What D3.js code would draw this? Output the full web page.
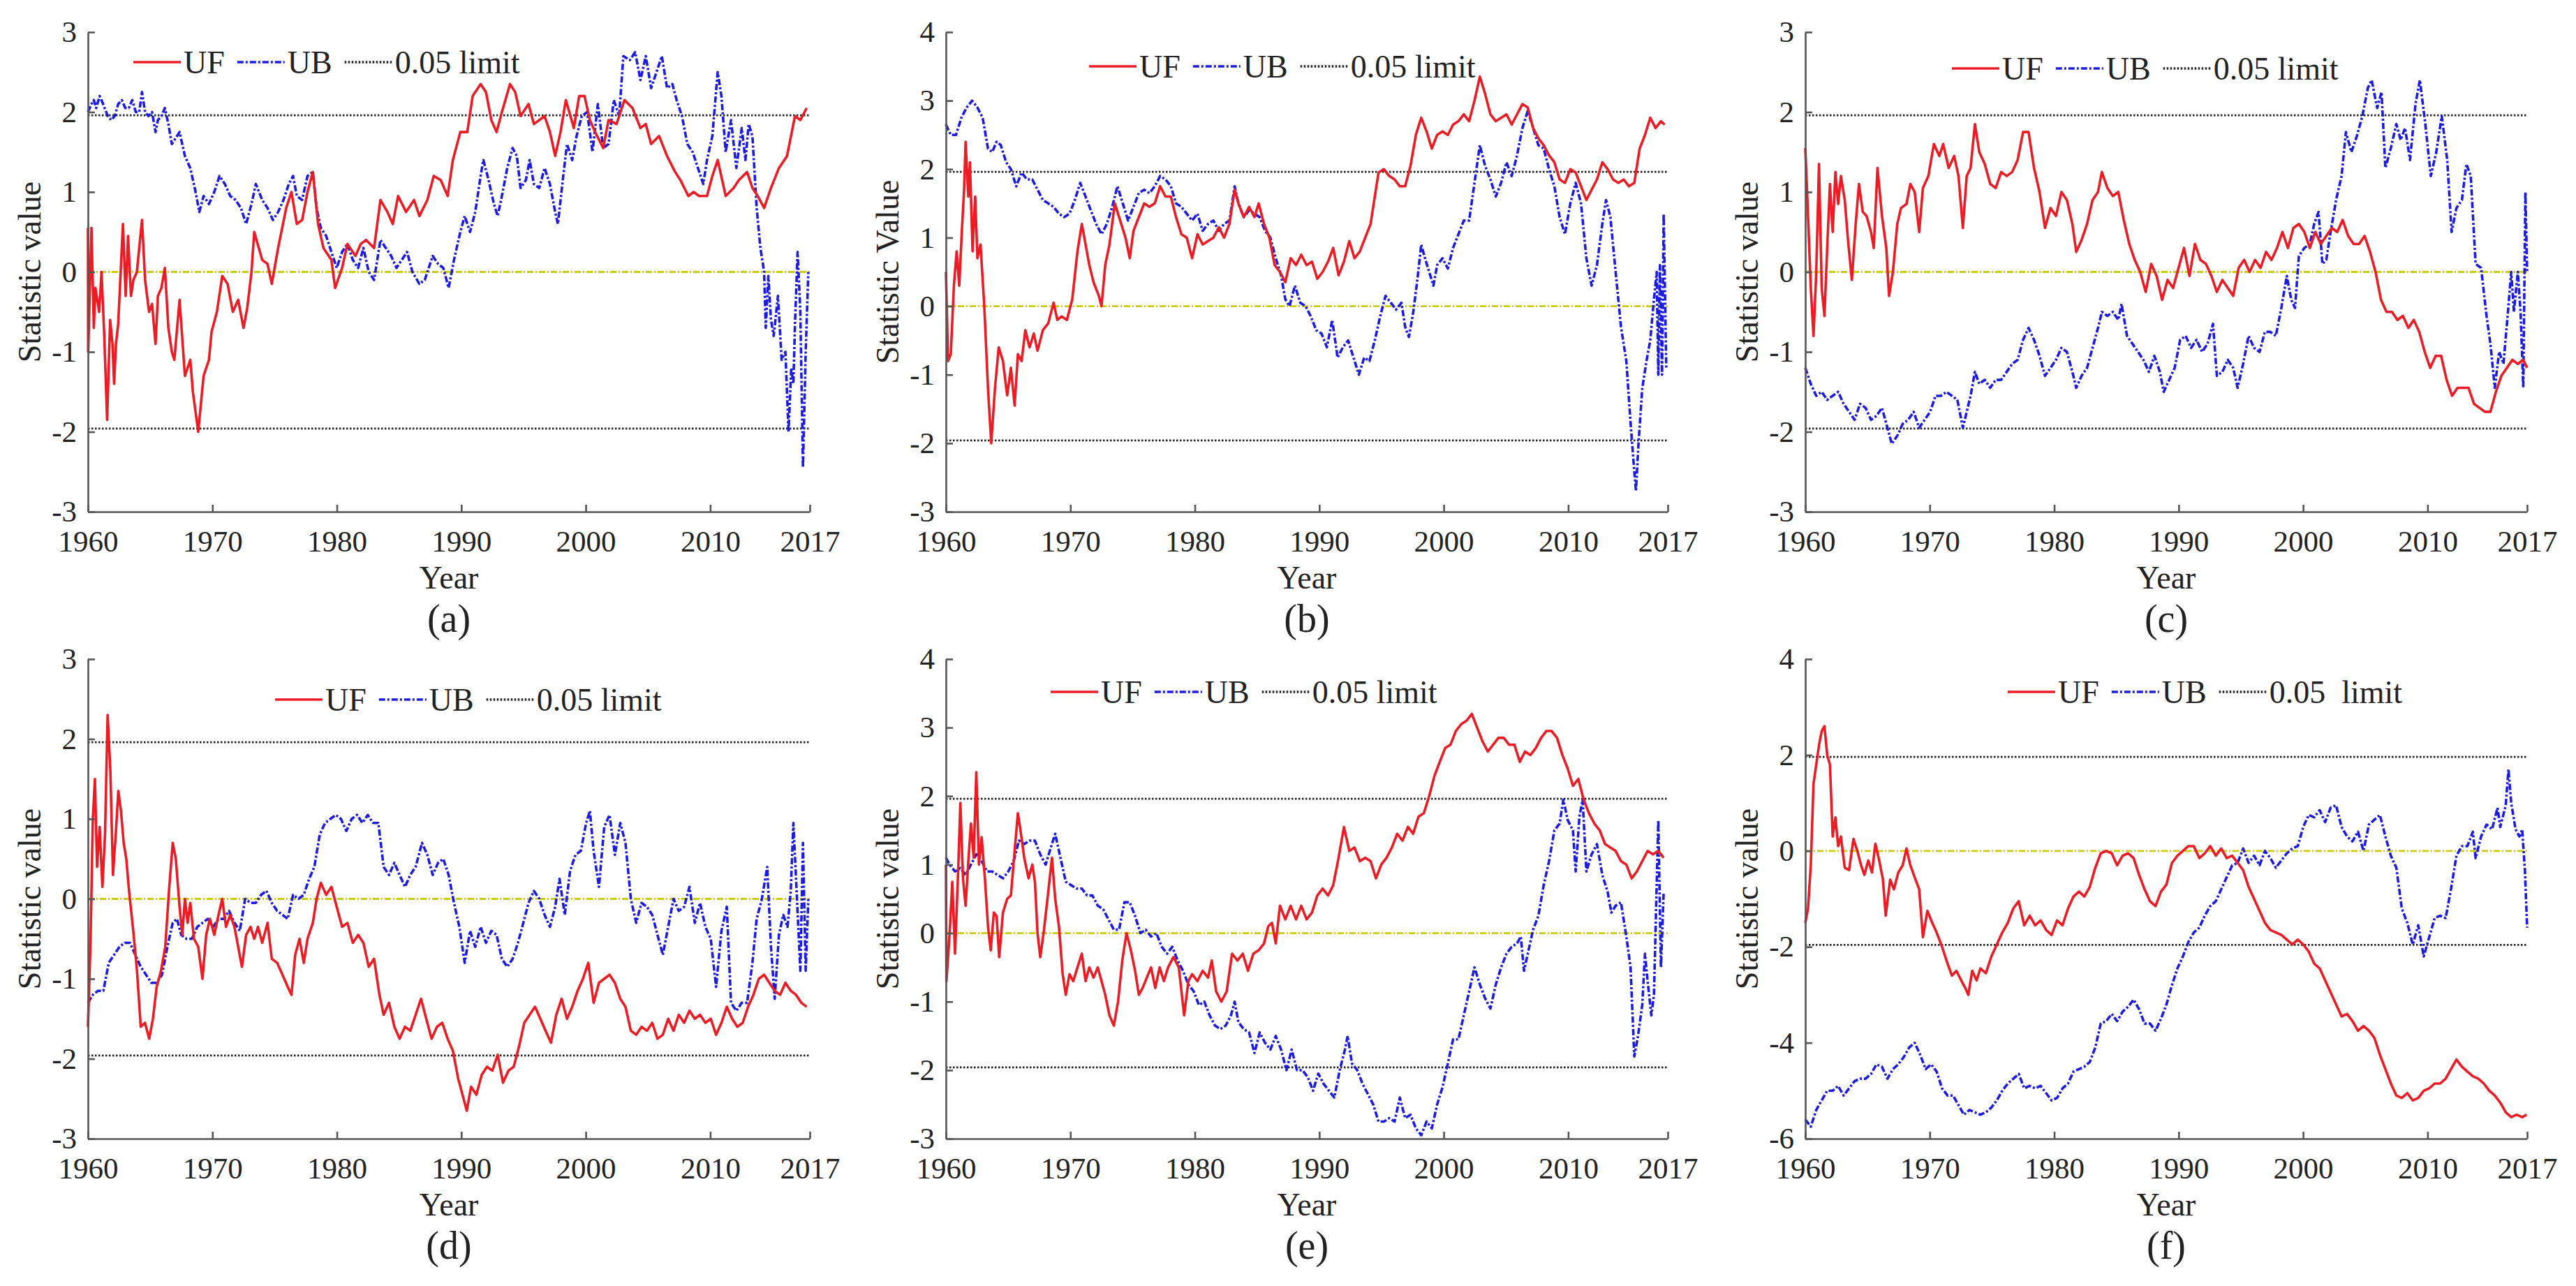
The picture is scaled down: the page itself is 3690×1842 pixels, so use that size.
<!DOCTYPE html>
<html>
<head>
<meta charset="utf-8">
<script src="https://cdn.jsdelivr.net/npm/d3@7"></script>
<style>
  body { margin: 0; background: #fff; }
  svg text { font-family: "Liberation Serif", "Times New Roman", serif; fill: #222; }
</style>
</head>
<body>
<div class="container"></div>
<script>
const w = 3690;
const h = 1842;

// x axis: monthly series Jan 1960 .. Dec 2017, the last tick sits at the end of 2017
const xTickYears = [1960, 1970, 1980, 1990, 2000, 2010, 2018];
const xTickLabels = ['1960', '1970', '1980', '1990', '2000', '2010', '2017'];
const limit = 1.96;

// (a)
const ufA = [[1960.00,0.55],[1960.02,-1.0],[1960.28,0.55],[1960.47,-0.7],[1960.60,-0.2],[1960.75,-0.35],[1960.90,-0.5],[1961.09,0.0],[1961.31,-0.8],[1961.54,-1.85],[1961.78,-0.6],[1961.97,-0.9],[1962.10,-1.4],[1962.25,-0.9],[1962.43,-0.65],[1962.81,0.6],[1963.03,-0.3],[1963.22,0.45],[1963.46,-0.3],[1963.65,-0.1],[1963.93,0.0],[1964.34,0.65],[1964.59,-0.1],[1964.91,-0.5],[1965.15,-0.4],[1965.43,-0.9],[1965.62,-0.3],[1965.90,-0.2],[1966.18,0.05],[1966.46,-0.7],[1966.74,-1.0],[1966.94,-1.1],[1967.36,-0.35],[1967.79,-1.3],[1968.22,-1.1],[1968.43,-1.5],[1968.86,-2.0],[1969.29,-1.3],[1969.72,-1.1],[1969.93,-0.75],[1970.36,-0.5],[1970.79,-0.05],[1971.22,-0.15],[1971.64,-0.5],[1972.07,-0.35],[1972.50,-0.7],[1972.80,-0.45],[1973.14,0.0],[1973.36,0.5],[1974.00,0.15],[1974.43,0.1],[1974.77,-0.15],[1975.28,0.3],[1975.93,0.8],[1976.35,1.0],[1976.78,0.6],[1977.21,0.65],[1977.64,1.0],[1978.07,1.25],[1978.49,0.6],[1978.92,0.3],[1979.56,0.15],[1979.86,-0.2],[1980.42,0.05],[1980.85,0.35],[1981.49,0.2],[1981.92,0.35],[1982.35,0.4],[1982.99,0.3],[1983.50,0.9],[1984.06,0.75],[1984.49,0.6],[1984.92,0.95],[1985.56,0.75],[1986.20,0.9],[1986.63,0.7],[1987.27,0.9],[1987.78,1.2],[1988.34,1.15],[1988.90,0.95],[1989.32,1.4],[1989.92,1.75],[1990.48,1.75],[1990.91,2.2],[1991.55,2.35],[1991.98,2.25],[1992.41,1.9],[1992.83,1.75],[1993.26,2.0],[1993.91,2.35],[1994.33,2.25],[1994.76,1.95],[1995.40,2.1],[1995.83,1.85],[1996.26,1.9],[1996.69,1.95],[1997.12,1.75],[1997.54,1.45],[1997.97,1.75],[1998.40,2.15],[1999.04,1.8],[1999.47,2.2],[1999.90,2.2],[2000.33,1.9],[2000.75,1.75],[2001.40,1.55],[2001.83,1.9],[2002.47,1.85],[2003.11,2.15],[2003.75,2.05],[2004.39,1.8],[2004.82,1.85],[2005.25,1.6],[2005.89,1.7],[2006.53,1.45],[2007.18,1.25],[2007.60,1.15],[2008.24,0.95],[2008.67,1.0],[2009.10,0.95],[2009.74,0.95],[2010.17,1.2],[2010.60,1.4],[2011.24,0.95],[2011.88,1.05],[2012.31,1.15],[2012.96,1.25],[2013.39,1.05],[2013.81,0.95],[2014.33,0.8],[2014.88,1.05],[2015.52,1.3],[2016.17,1.45],[2016.81,1.95],[2017.24,1.9],[2017.75,2.05]];
const ubA = [[1960.00,2.0],[1960.28,2.1],[1960.47,2.15],[1960.66,2.05],[1960.94,2.2],[1961.22,2.1],[1961.59,1.95],[1961.87,1.9],[1962.15,1.95],[1962.43,2.1],[1962.72,2.15],[1963.00,2.05],[1963.28,2.05],[1963.56,2.15],[1963.84,2.0],[1964.12,2.0],[1964.34,2.25],[1964.59,2.0],[1964.87,1.95],[1965.15,2.0],[1965.43,1.75],[1965.62,1.9],[1965.90,1.95],[1966.18,2.05],[1966.46,1.85],[1966.74,1.6],[1967.36,1.75],[1967.79,1.45],[1968.22,1.3],[1968.65,1.0],[1968.95,0.75],[1969.29,0.95],[1969.72,0.85],[1970.15,1.0],[1970.57,1.2],[1971.00,1.1],[1971.43,0.95],[1971.86,0.9],[1972.29,0.8],[1972.71,0.6],[1973.14,0.85],[1973.49,1.1],[1974.00,0.9],[1974.43,0.8],[1974.86,0.65],[1975.28,0.75],[1975.71,0.9],[1976.14,1.1],[1976.48,1.2],[1976.78,0.95],[1977.21,0.9],[1977.64,1.2],[1978.07,1.25],[1978.37,0.8],[1978.71,0.55],[1979.14,0.45],[1979.56,0.25],[1979.99,0.05],[1980.42,0.25],[1980.85,0.35],[1981.28,0.15],[1981.71,0.05],[1982.13,0.3],[1982.56,0.0],[1982.99,-0.1],[1983.50,0.4],[1983.93,0.3],[1984.36,0.2],[1984.79,0.05],[1985.21,0.15],[1985.64,0.25],[1986.07,0.0],[1986.63,-0.15],[1987.06,-0.1],[1987.70,0.2],[1988.13,0.1],[1988.55,0.05],[1988.98,-0.2],[1989.41,0.15],[1989.92,0.5],[1990.27,0.7],[1990.70,0.5],[1991.12,0.75],[1991.55,1.2],[1991.77,1.4],[1992.19,1.15],[1992.62,0.85],[1992.92,0.7],[1993.26,0.95],[1993.69,1.3],[1994.12,1.55],[1994.46,1.45],[1994.76,1.05],[1995.19,1.15],[1995.49,1.4],[1995.83,1.1],[1996.26,1.05],[1996.69,1.3],[1997.12,1.1],[1997.54,0.75],[1997.76,0.6],[1998.19,1.2],[1998.49,1.6],[1998.91,1.4],[1999.26,1.7],[1999.68,1.95],[2000.11,2.0],[2000.54,1.5],[2000.97,2.1],[2001.40,1.55],[2001.83,1.6],[2002.25,2.15],[2002.68,1.95],[2003.02,2.7],[2003.54,2.65],[2003.97,2.75],[2004.39,2.4],[2004.82,2.7],[2005.25,2.3],[2005.68,2.5],[2006.11,2.7],[2006.53,2.3],[2006.96,2.35],[2007.30,2.15],[2007.73,1.95],[2008.16,1.6],[2008.59,1.5],[2009.01,1.3],[2009.44,1.1],[2009.74,1.4],[2010.17,1.7],[2010.60,2.5],[2010.90,2.2],[2011.24,1.5],[2011.67,1.9],[2012.10,1.3],[2012.53,1.8],[2012.83,1.4],[2013.09,1.85],[2013.39,1.7],[2013.73,0.8],[2014.03,0.3],[2014.33,0.0],[2014.46,-0.7],[2014.67,-0.05],[2014.88,-0.6],[2015.10,-0.8],[2015.44,-0.3],[2015.74,-1.1],[2016.04,-1.0],[2016.29,-2.0],[2016.51,-1.2],[2016.68,-1.4],[2016.81,-0.65],[2017.02,0.25],[2017.24,-0.5],[2017.45,-2.45],[2017.67,-1.0],[2017.88,0.0]];

// (b)
const ufB = [[1960.00,0.5],[1960.17,-0.8],[1960.39,-0.7],[1960.64,0.3],[1960.86,0.8],[1961.07,0.3],[1961.28,1.1],[1961.46,1.7],[1961.58,2.4],[1961.80,1.6],[1961.93,2.1],[1962.14,0.8],[1962.35,1.6],[1962.53,0.7],[1962.78,0.9],[1963.08,0.0],[1963.38,-1.2],[1963.64,-2.0],[1963.94,-1.2],[1964.24,-0.6],[1964.58,-0.8],[1964.92,-1.3],[1965.22,-0.9],[1965.52,-1.45],[1965.78,-0.7],[1966.08,-0.8],[1966.38,-0.35],[1966.72,-0.6],[1967.06,-0.4],[1967.36,-0.65],[1967.79,-0.35],[1968.22,-0.25],[1968.65,0.05],[1968.95,-0.2],[1969.29,-0.15],[1969.72,-0.2],[1970.15,0.1],[1970.57,0.8],[1970.92,1.2],[1971.22,0.9],[1971.52,0.6],[1971.86,0.35],[1972.29,0.15],[1972.50,0.0],[1972.80,0.6],[1973.14,0.9],[1973.57,1.5],[1974.00,1.25],[1974.43,1.0],[1974.77,0.7],[1975.07,1.1],[1975.50,1.3],[1975.93,1.5],[1976.35,1.45],[1976.78,1.5],[1977.21,1.75],[1977.64,1.6],[1978.07,1.6],[1978.49,1.3],[1978.92,1.05],[1979.35,1.0],[1979.78,0.7],[1980.21,1.05],[1980.63,0.9],[1981.06,0.95],[1981.49,1.0],[1981.92,1.15],[1982.35,1.0],[1982.78,1.2],[1983.20,1.7],[1983.50,1.5],[1983.93,1.3],[1984.36,1.45],[1984.79,1.3],[1985.13,1.5],[1985.56,1.2],[1985.99,1.0],[1986.41,0.6],[1986.84,0.5],[1987.27,0.35],[1987.70,0.7],[1988.13,0.6],[1988.55,0.75],[1988.98,0.6],[1989.41,0.65],[1989.84,0.4],[1990.27,0.5],[1990.70,0.65],[1991.12,0.85],[1991.55,0.45],[1991.98,0.65],[1992.41,0.95],[1992.83,0.7],[1993.26,0.8],[1993.69,1.0],[1994.12,1.2],[1994.46,1.6],[1994.76,1.95],[1995.19,2.0],[1995.62,1.9],[1996.05,1.85],[1996.47,1.75],[1996.90,1.75],[1997.33,2.05],[1997.76,2.5],[1998.19,2.75],[1998.62,2.55],[1999.04,2.3],[1999.47,2.5],[1999.90,2.55],[2000.33,2.5],[2000.75,2.65],[2001.18,2.7],[2001.61,2.8],[2002.04,2.7],[2002.47,3.0],[2002.90,3.35],[2003.32,3.1],[2003.75,2.8],[2004.18,2.7],[2004.61,2.75],[2005.04,2.8],[2005.46,2.65],[2005.89,2.8],[2006.32,2.95],[2006.75,2.9],[2007.18,2.6],[2007.60,2.45],[2008.03,2.35],[2008.46,2.2],[2008.89,2.1],[2009.31,1.85],[2009.74,1.8],[2010.17,2.0],[2010.60,1.95],[2011.03,1.75],[2011.46,1.55],[2011.88,1.7],[2012.31,1.85],[2012.74,2.1],[2013.17,2.0],[2013.60,1.85],[2014.03,1.8],[2014.46,1.85],[2014.88,1.75],[2015.31,1.8],[2015.74,2.3],[2016.17,2.5],[2016.59,2.75],[2017.02,2.6],[2017.45,2.7],[2017.75,2.65]];
const ubB = [[1960.00,2.65],[1960.39,2.5],[1960.81,2.5],[1961.24,2.75],[1961.67,2.9],[1962.10,3.0],[1962.53,2.9],[1962.95,2.75],[1963.38,2.3],[1963.72,2.25],[1964.07,2.4],[1964.41,2.35],[1964.84,2.1],[1965.22,2.0],[1965.65,1.75],[1966.08,1.95],[1966.51,1.85],[1966.94,1.85],[1967.36,1.7],[1967.79,1.55],[1968.22,1.5],[1968.65,1.45],[1969.08,1.35],[1969.50,1.3],[1969.93,1.35],[1970.36,1.55],[1970.79,1.8],[1971.22,1.6],[1971.64,1.4],[1972.07,1.2],[1972.50,1.05],[1972.93,1.2],[1973.36,1.45],[1973.78,1.75],[1974.21,1.5],[1974.64,1.25],[1975.07,1.45],[1975.50,1.65],[1975.93,1.7],[1976.35,1.65],[1976.78,1.75],[1977.21,1.9],[1977.64,1.85],[1978.07,1.75],[1978.49,1.5],[1978.92,1.45],[1979.35,1.35],[1979.78,1.25],[1980.21,1.35],[1980.63,1.1],[1981.06,1.2],[1981.49,1.25],[1981.92,1.1],[1982.35,1.2],[1982.78,1.25],[1983.20,1.75],[1983.50,1.5],[1983.93,1.3],[1984.36,1.4],[1984.79,1.35],[1985.21,1.3],[1985.64,1.1],[1986.07,1.0],[1986.50,0.7],[1986.93,0.45],[1987.27,0.1],[1987.61,0.0],[1988.04,0.3],[1988.47,0.05],[1988.90,0.0],[1989.32,-0.15],[1989.75,-0.35],[1990.18,-0.4],[1990.61,-0.6],[1991.04,-0.2],[1991.47,-0.75],[1991.89,-0.6],[1992.32,-0.5],[1992.75,-0.75],[1993.18,-1.0],[1993.61,-0.75],[1994.03,-0.8],[1994.46,-0.5],[1994.89,-0.15],[1995.32,0.15],[1995.75,0.05],[1996.17,-0.05],[1996.60,0.05],[1996.90,-0.3],[1997.20,-0.45],[1997.54,-0.1],[1997.89,0.4],[1998.19,0.9],[1998.49,0.7],[1998.83,0.5],[1999.17,0.3],[1999.47,0.6],[1999.90,0.7],[2000.33,0.55],[2000.75,0.85],[2001.18,1.05],[2001.61,1.25],[2002.04,1.25],[2002.47,1.8],[2002.90,2.35],[2003.32,2.05],[2003.75,1.85],[2004.18,1.6],[2004.61,1.8],[2005.04,2.1],[2005.46,1.9],[2005.89,2.2],[2006.32,2.6],[2006.75,2.85],[2007.18,2.6],[2007.60,2.35],[2008.03,2.3],[2008.46,2.0],[2008.89,1.75],[2009.31,1.3],[2009.74,1.05],[2010.17,1.5],[2010.60,1.8],[2011.03,1.5],[2011.46,0.7],[2011.88,0.3],[2012.31,0.6],[2012.74,1.2],[2013.04,1.55],[2013.39,1.3],[2013.81,0.5],[2014.24,-0.3],[2014.67,-0.8],[2015.01,-1.7],[2015.22,-2.2],[2015.44,-2.7],[2015.65,-2.0],[2015.95,-1.2],[2016.29,-0.8],[2016.59,-0.5],[2016.89,0.1],[2017.11,0.5],[2017.24,-1.0],[2017.37,0.6],[2017.54,-1.0],[2017.67,1.35],[2017.88,-0.9]];

// (c)
const ufC = [[1960.00,1.55],[1960.22,0.7],[1960.44,-0.2],[1960.66,-0.8],[1960.88,0.0],[1961.10,1.35],[1961.32,-0.2],[1961.54,-0.55],[1961.76,0.3],[1961.98,1.1],[1962.20,0.5],[1962.42,1.25],[1962.64,0.85],[1962.86,1.2],[1963.17,0.9],[1963.43,0.4],[1963.74,-0.1],[1964.05,0.6],[1964.31,1.1],[1964.62,0.75],[1964.92,0.7],[1965.28,0.5],[1965.50,0.3],[1965.80,1.3],[1966.16,0.7],[1966.51,0.3],[1966.73,-0.3],[1967.04,0.0],[1967.39,0.6],[1967.69,0.8],[1968.13,0.85],[1968.44,1.1],[1968.79,1.0],[1969.15,0.5],[1969.45,1.05],[1969.89,1.2],[1970.33,1.6],[1970.77,1.45],[1971.08,1.6],[1971.52,1.3],[1971.96,1.45],[1972.31,1.2],[1972.66,0.55],[1972.97,1.2],[1973.28,1.3],[1973.63,1.85],[1973.98,1.5],[1974.42,1.35],[1974.86,1.1],[1975.30,1.05],[1975.74,1.25],[1976.18,1.2],[1976.62,1.25],[1977.06,1.4],[1977.50,1.75],[1977.94,1.75],[1978.38,1.3],[1978.82,1.0],[1979.26,0.55],[1979.70,0.8],[1980.14,0.7],[1980.58,1.0],[1981.02,0.9],[1981.46,0.6],[1981.77,0.25],[1982.20,0.4],[1982.64,0.6],[1983.08,0.9],[1983.52,1.0],[1983.83,1.25],[1984.27,1.05],[1984.71,0.95],[1985.15,1.0],[1985.59,0.65],[1986.03,0.35],[1986.47,0.15],[1986.91,0.0],[1987.35,-0.25],[1987.79,0.1],[1988.23,-0.05],[1988.67,-0.35],[1989.11,-0.1],[1989.55,-0.2],[1989.99,0.05],[1990.43,0.3],[1990.87,-0.05],[1991.31,0.35],[1991.75,0.15],[1992.19,0.1],[1992.63,-0.05],[1993.07,-0.25],[1993.51,-0.1],[1993.95,-0.2],[1994.38,-0.3],[1994.82,0.05],[1995.26,0.15],[1995.70,0.0],[1996.14,0.15],[1996.58,0.05],[1997.02,0.25],[1997.46,0.15],[1997.90,0.3],[1998.34,0.5],[1998.78,0.3],[1999.22,0.55],[1999.66,0.6],[2000.10,0.5],[2000.54,0.3],[2000.98,0.5],[2001.42,0.35],[2001.86,0.45],[2002.30,0.55],[2002.74,0.5],[2003.18,0.65],[2003.62,0.45],[2004.06,0.35],[2004.50,0.35],[2004.94,0.45],[2005.38,0.25],[2005.82,0.0],[2006.26,-0.35],[2006.70,-0.5],[2007.14,-0.5],[2007.58,-0.6],[2008.02,-0.55],[2008.46,-0.7],[2008.89,-0.6],[2009.33,-0.75],[2009.77,-1.0],[2010.21,-1.2],[2010.65,-1.05],[2011.09,-1.05],[2011.53,-1.35],[2011.97,-1.55],[2012.41,-1.45],[2012.85,-1.45],[2013.29,-1.45],[2013.73,-1.65],[2014.17,-1.7],[2014.61,-1.75],[2015.05,-1.75],[2015.49,-1.5],[2015.93,-1.3],[2016.37,-1.2],[2016.81,-1.1],[2017.25,-1.15],[2017.69,-1.1],[2018.00,-1.2]];
const ubC = [[1960.00,-1.2],[1960.44,-1.4],[1960.88,-1.55],[1961.32,-1.5],[1961.76,-1.6],[1962.20,-1.55],[1962.64,-1.5],[1963.08,-1.65],[1963.52,-1.75],[1963.96,-1.85],[1964.40,-1.65],[1964.84,-1.7],[1965.28,-1.85],[1965.72,-1.8],[1966.16,-1.7],[1966.60,-1.95],[1966.95,-2.15],[1967.39,-2.05],[1967.83,-1.9],[1968.27,-1.85],[1968.71,-1.75],[1969.15,-1.95],[1969.59,-1.85],[1970.03,-1.75],[1970.46,-1.55],[1970.90,-1.55],[1971.34,-1.5],[1971.78,-1.55],[1972.22,-1.6],[1972.66,-1.95],[1972.97,-1.75],[1973.28,-1.55],[1973.63,-1.25],[1973.98,-1.4],[1974.42,-1.35],[1974.86,-1.45],[1975.30,-1.35],[1975.74,-1.35],[1976.18,-1.25],[1976.62,-1.15],[1977.06,-1.1],[1977.50,-0.85],[1977.94,-0.7],[1978.38,-0.85],[1978.82,-1.05],[1979.26,-1.3],[1979.70,-1.2],[1980.14,-1.1],[1980.58,-0.95],[1981.02,-1.0],[1981.46,-1.25],[1981.77,-1.45],[1982.20,-1.3],[1982.64,-1.2],[1983.08,-0.95],[1983.52,-0.7],[1983.83,-0.5],[1984.27,-0.55],[1984.71,-0.5],[1985.15,-0.6],[1985.41,-0.4],[1985.85,-0.8],[1986.29,-0.9],[1986.73,-1.0],[1987.17,-1.1],[1987.61,-1.25],[1988.05,-1.05],[1988.49,-1.25],[1988.80,-1.5],[1989.24,-1.35],[1989.68,-1.2],[1990.12,-0.85],[1990.56,-0.8],[1991.00,-0.95],[1991.44,-0.85],[1991.88,-1.0],[1992.32,-0.9],[1992.76,-0.65],[1993.07,-1.3],[1993.51,-1.25],[1993.95,-1.1],[1994.38,-1.2],[1994.74,-1.45],[1995.18,-1.15],[1995.62,-0.8],[1996.06,-0.95],[1996.50,-1.0],[1996.93,-0.75],[1997.37,-0.75],[1997.81,-0.8],[1998.25,-0.45],[1998.69,-0.05],[1999.05,-0.35],[1999.35,-0.45],[1999.66,0.2],[2000.10,0.3],[2000.54,0.35],[2000.89,0.6],[2001.24,0.75],[2001.55,0.1],[2001.86,0.15],[2002.21,0.5],[2002.65,0.9],[2003.09,1.2],[2003.44,1.75],[2003.88,1.5],[2004.32,1.7],[2004.76,1.95],[2005.20,2.3],[2005.51,2.4],[2005.95,2.05],[2006.30,2.25],[2006.61,1.3],[2007.05,1.55],[2007.49,1.85],[2007.84,1.65],[2008.19,1.8],[2008.59,1.4],[2009.03,2.1],[2009.38,2.4],[2009.82,1.85],[2010.26,1.2],[2010.70,1.5],[2011.14,1.95],[2011.58,1.4],[2011.93,0.5],[2012.32,0.8],[2012.76,0.9],[2013.12,1.35],[2013.47,1.2],[2013.86,0.1],[2014.30,0.05],[2014.74,-0.55],[2015.05,-0.9],[2015.40,-1.45],[2015.75,-1.0],[2016.10,-1.15],[2016.46,-0.5],[2016.72,0.0],[2016.94,-0.5],[2017.25,0.0],[2017.47,-0.5],[2017.69,-1.45],[2017.86,1.0],[2018.00,0.0]];

// (d)
const ufD = [[1960.00,-1.6],[1960.21,-0.5],[1960.39,1.0],[1960.56,1.5],[1960.73,0.4],[1960.94,0.9],[1961.16,0.15],[1961.37,0.8],[1961.58,2.3],[1961.80,1.6],[1962.01,0.3],[1962.23,0.8],[1962.44,1.35],[1962.65,1.1],[1962.87,0.7],[1963.08,0.5],[1963.30,0.1],[1963.64,-0.4],[1963.94,-0.9],[1964.24,-1.6],[1964.58,-1.55],[1964.92,-1.75],[1965.22,-1.5],[1965.52,-1.1],[1965.87,-0.9],[1966.21,-0.6],[1966.51,0.1],[1966.81,0.7],[1967.06,0.5],[1967.36,-0.1],[1967.58,-0.45],[1967.79,0.0],[1968.01,-0.3],[1968.22,-0.05],[1968.52,-0.5],[1968.86,-0.6],[1969.20,-1.0],[1969.50,-0.45],[1969.80,-0.25],[1970.15,-0.45],[1970.49,-0.2],[1970.79,0.0],[1971.09,-0.35],[1971.43,-0.2],[1971.77,-0.35],[1972.07,-0.6],[1972.37,-0.85],[1972.71,-0.45],[1973.06,-0.35],[1973.36,-0.5],[1973.66,-0.35],[1974.00,-0.55],[1974.43,-0.3],[1974.77,-0.75],[1975.20,-0.8],[1975.63,-0.95],[1976.05,-1.1],[1976.35,-1.2],[1976.65,-0.7],[1977.00,-0.5],[1977.34,-0.8],[1977.64,-0.5],[1978.07,-0.3],[1978.37,0.0],[1978.71,0.2],[1979.14,0.05],[1979.56,0.15],[1979.99,-0.1],[1980.42,-0.35],[1980.85,-0.3],[1981.28,-0.55],[1981.71,-0.45],[1982.13,-0.55],[1982.56,-0.85],[1982.99,-0.75],[1983.42,-1.2],[1983.76,-1.45],[1984.19,-1.3],[1984.62,-1.6],[1985.04,-1.75],[1985.47,-1.6],[1985.90,-1.65],[1986.33,-1.45],[1986.76,-1.25],[1987.18,-1.5],[1987.61,-1.75],[1988.04,-1.6],[1988.47,-1.55],[1988.90,-1.75],[1989.32,-1.9],[1989.75,-2.25],[1990.18,-2.5],[1990.44,-2.65],[1990.78,-2.35],[1991.21,-2.45],[1991.64,-2.2],[1992.06,-2.1],[1992.49,-2.15],[1992.92,-1.95],[1993.35,-2.3],[1993.78,-2.15],[1994.21,-2.1],[1994.63,-1.85],[1995.06,-1.55],[1995.49,-1.45],[1995.92,-1.35],[1996.35,-1.5],[1996.77,-1.65],[1997.20,-1.8],[1997.63,-1.45],[1998.06,-1.25],[1998.49,-1.5],[1998.91,-1.35],[1999.34,-1.15],[1999.77,-1.0],[2000.20,-0.8],[2000.63,-1.3],[2001.06,-1.05],[2001.48,-1.0],[2001.91,-0.95],[2002.34,-1.05],[2002.77,-1.25],[2003.19,-1.35],[2003.62,-1.65],[2004.05,-1.7],[2004.48,-1.6],[2004.91,-1.65],[2005.34,-1.55],[2005.76,-1.75],[2006.19,-1.7],[2006.62,-1.5],[2007.05,-1.65],[2007.47,-1.45],[2007.90,-1.55],[2008.33,-1.4],[2008.76,-1.5],[2009.18,-1.45],[2009.61,-1.55],[2010.04,-1.5],[2010.47,-1.7],[2010.90,-1.55],[2011.33,-1.35],[2011.76,-1.5],[2012.18,-1.6],[2012.61,-1.55],[2013.04,-1.35],[2013.47,-1.2],[2013.90,-1.0],[2014.33,-0.95],[2014.75,-1.05],[2015.18,-1.15],[2015.61,-1.2],[2016.04,-1.05],[2016.47,-1.15],[2016.89,-1.2],[2017.32,-1.3],[2017.75,-1.35]];
const ubD = [[1960.00,-1.3],[1960.39,-1.2],[1960.81,-1.15],[1961.24,-1.15],[1961.67,-0.8],[1962.10,-0.7],[1962.53,-0.6],[1962.95,-0.55],[1963.38,-0.55],[1963.81,-0.7],[1964.24,-0.85],[1964.67,-0.95],[1965.09,-1.05],[1965.52,-1.05],[1965.95,-0.95],[1966.38,-0.6],[1966.81,-0.3],[1967.15,-0.25],[1967.49,-0.45],[1967.92,-0.5],[1968.35,-0.5],[1968.78,-0.35],[1969.20,-0.3],[1969.63,-0.25],[1970.06,-0.35],[1970.49,-0.25],[1970.92,-0.25],[1971.34,-0.15],[1971.77,-0.3],[1972.20,-0.4],[1972.63,0.0],[1973.06,-0.05],[1973.49,-0.05],[1973.91,0.05],[1974.34,0.1],[1974.77,-0.05],[1975.20,-0.15],[1975.63,-0.2],[1976.05,-0.25],[1976.48,0.05],[1976.91,0.0],[1977.34,0.05],[1977.77,0.25],[1978.19,0.4],[1978.62,0.8],[1979.05,0.95],[1979.48,1.0],[1979.91,1.05],[1980.33,1.0],[1980.76,0.85],[1981.19,1.0],[1981.62,1.05],[1982.05,0.95],[1982.48,1.05],[1982.90,0.95],[1983.33,0.95],[1983.76,0.4],[1984.19,0.3],[1984.62,0.45],[1985.04,0.3],[1985.47,0.15],[1985.90,0.3],[1986.33,0.4],[1986.84,0.7],[1987.27,0.55],[1987.70,0.3],[1988.13,0.45],[1988.55,0.5],[1988.98,0.3],[1989.41,-0.05],[1989.84,-0.35],[1990.27,-0.8],[1990.70,-0.4],[1991.12,-0.6],[1991.55,-0.35],[1991.98,-0.55],[1992.41,-0.4],[1992.83,-0.45],[1993.26,-0.75],[1993.69,-0.85],[1994.12,-0.75],[1994.55,-0.55],[1994.98,-0.3],[1995.40,-0.05],[1995.83,0.1],[1996.26,0.0],[1996.69,-0.2],[1997.12,-0.35],[1997.54,-0.1],[1997.89,0.25],[1998.31,-0.2],[1998.74,0.35],[1999.17,0.55],[1999.60,0.6],[2000.03,0.95],[2000.33,1.1],[2000.63,0.6],[2001.06,0.15],[2001.48,0.9],[2001.91,1.05],[2002.34,0.55],[2002.77,0.95],[2003.19,0.7],[2003.62,0.0],[2004.05,-0.3],[2004.48,-0.05],[2004.91,-0.1],[2005.34,-0.2],[2005.76,-0.45],[2006.19,-0.7],[2006.62,-0.35],[2007.05,0.0],[2007.47,-0.15],[2007.90,-0.1],[2008.33,0.15],[2008.76,-0.3],[2009.18,-0.05],[2009.61,-0.35],[2010.04,-0.5],[2010.47,-1.1],[2010.90,-0.4],[2011.33,-0.1],[2011.67,-1.3],[2012.10,-1.4],[2012.53,-1.3],[2012.96,-1.3],[2013.39,-0.8],[2013.73,-0.25],[2014.15,0.0],[2014.58,0.4],[2014.88,-0.6],[2015.18,-1.25],[2015.52,-0.45],[2015.87,-0.2],[2016.21,-0.35],[2016.47,0.1],[2016.68,0.95],[2016.94,0.1],[2017.24,-0.9],[2017.45,0.7],[2017.67,-0.9],[2017.88,0.0]];

// (e)
const ufE = [[1960.00,1.0],[1960.04,-0.7],[1960.30,0.0],[1960.51,0.75],[1960.73,-0.3],[1960.98,0.9],[1961.16,1.9],[1961.37,0.8],[1961.58,0.4],[1961.80,1.05],[1962.01,1.6],[1962.23,1.1],[1962.44,2.35],[1962.65,1.0],[1962.87,1.4],[1963.13,0.8],[1963.38,0.1],[1963.60,-0.25],[1963.85,0.3],[1964.07,0.25],[1964.28,-0.35],[1964.58,0.3],[1964.92,0.5],[1965.22,0.55],[1965.52,1.2],[1965.78,1.75],[1965.99,1.5],[1966.29,1.1],[1966.64,0.8],[1966.94,1.0],[1967.15,0.75],[1967.36,0.0],[1967.58,-0.35],[1967.88,0.05],[1968.22,0.6],[1968.52,1.1],[1968.78,0.5],[1969.08,0.1],[1969.38,-0.6],[1969.63,-0.9],[1969.93,-0.6],[1970.23,-0.7],[1970.57,-0.5],[1970.92,-0.3],[1971.22,-0.7],[1971.52,-0.5],[1971.86,-0.65],[1972.20,-0.5],[1972.50,-0.7],[1972.80,-0.9],[1973.14,-1.2],[1973.49,-1.35],[1973.83,-1.0],[1974.17,-0.4],[1974.51,0.0],[1974.86,-0.25],[1975.20,-0.55],[1975.50,-0.9],[1975.80,-0.8],[1976.14,-0.65],[1976.48,-0.5],[1976.82,-0.8],[1977.17,-0.5],[1977.51,-0.7],[1977.85,-0.5],[1978.28,-0.35],[1978.71,-0.5],[1979.14,-1.2],[1979.48,-0.7],[1979.78,-0.6],[1980.21,-0.7],[1980.63,-0.55],[1981.06,-0.65],[1981.36,-0.4],[1981.71,-0.85],[1982.13,-1.0],[1982.56,-0.85],[1982.99,-0.3],[1983.42,-0.4],[1983.85,-0.3],[1984.27,-0.55],[1984.70,-0.3],[1985.13,-0.25],[1985.56,-0.15],[1985.90,0.1],[1986.20,0.15],[1986.50,-0.15],[1986.84,0.4],[1987.27,0.2],[1987.70,0.4],[1988.13,0.2],[1988.55,0.4],[1988.98,0.2],[1989.41,0.3],[1989.84,0.55],[1990.27,0.65],[1990.70,0.55],[1991.12,0.7],[1991.55,1.1],[1991.98,1.55],[1992.41,1.2],[1992.83,1.25],[1993.26,1.05],[1993.69,1.1],[1994.12,1.05],[1994.55,0.8],[1994.98,1.0],[1995.40,1.1],[1995.83,1.25],[1996.26,1.45],[1996.69,1.35],[1997.12,1.55],[1997.54,1.45],[1997.97,1.7],[1998.40,1.75],[1998.83,2.0],[1999.26,2.3],[1999.68,2.5],[2000.11,2.7],[2000.54,2.75],[2000.97,2.95],[2001.40,3.05],[2001.83,3.1],[2002.25,3.2],[2002.68,3.0],[2003.11,2.8],[2003.54,2.65],[2003.97,2.75],[2004.39,2.85],[2004.82,2.85],[2005.25,2.75],[2005.68,2.75],[2006.11,2.5],[2006.53,2.65],[2006.96,2.6],[2007.39,2.7],[2007.82,2.85],[2008.24,2.95],[2008.67,2.95],[2009.10,2.85],[2009.53,2.6],[2009.96,2.4],[2010.38,2.15],[2010.81,2.25],[2011.24,1.95],[2011.67,1.75],[2012.10,1.6],[2012.53,1.5],[2012.96,1.3],[2013.39,1.25],[2013.81,1.2],[2014.24,1.05],[2014.67,1.0],[2015.10,0.8],[2015.52,0.9],[2015.95,1.05],[2016.38,1.2],[2016.81,1.15],[2017.24,1.2],[2017.67,1.1]];
const ubE = [[1960.00,1.1],[1960.30,1.0],[1960.73,0.9],[1961.16,0.95],[1961.58,0.85],[1962.01,1.0],[1962.44,1.15],[1962.87,1.05],[1963.30,0.9],[1963.72,0.9],[1964.15,0.85],[1964.58,0.8],[1965.01,0.9],[1965.44,1.05],[1965.87,1.35],[1966.29,1.3],[1966.72,1.35],[1967.15,1.35],[1967.58,1.15],[1968.01,1.0],[1968.43,1.25],[1968.78,1.45],[1969.20,1.1],[1969.63,0.75],[1970.06,0.7],[1970.49,0.65],[1970.92,0.65],[1971.34,0.55],[1971.77,0.55],[1972.20,0.4],[1972.63,0.35],[1973.06,0.2],[1973.49,0.05],[1973.91,0.05],[1974.34,0.45],[1974.77,0.45],[1975.20,0.25],[1975.63,0.0],[1976.05,0.05],[1976.48,-0.05],[1976.91,0.0],[1977.34,-0.2],[1977.77,-0.3],[1978.19,-0.2],[1978.62,-0.4],[1979.05,-0.55],[1979.48,-0.75],[1979.91,-0.85],[1980.33,-1.05],[1980.76,-1.0],[1981.19,-1.2],[1981.62,-1.35],[1982.05,-1.4],[1982.48,-1.35],[1982.90,-1.2],[1983.20,-1.0],[1983.50,-1.3],[1983.93,-1.4],[1984.36,-1.45],[1984.79,-1.75],[1985.21,-1.45],[1985.64,-1.6],[1986.07,-1.7],[1986.50,-1.5],[1986.93,-1.7],[1987.36,-2.0],[1987.78,-1.7],[1988.21,-2.0],[1988.64,-2.0],[1989.07,-2.1],[1989.50,-2.3],[1989.92,-2.05],[1990.35,-2.2],[1990.78,-2.3],[1991.21,-2.4],[1991.64,-2.0],[1992.06,-1.7],[1992.28,-1.5],[1992.62,-1.9],[1993.05,-2.0],[1993.48,-2.2],[1993.91,-2.35],[1994.33,-2.5],[1994.76,-2.75],[1995.19,-2.75],[1995.62,-2.7],[1996.05,-2.75],[1996.47,-2.4],[1996.90,-2.7],[1997.33,-2.65],[1997.76,-2.85],[1998.19,-2.95],[1998.62,-2.75],[1999.04,-2.85],[1999.47,-2.5],[1999.90,-2.25],[2000.33,-1.9],[2000.75,-1.55],[2001.18,-1.55],[2001.61,-1.2],[2002.04,-0.85],[2002.47,-0.5],[2002.90,-0.75],[2003.32,-0.95],[2003.75,-1.1],[2004.18,-0.75],[2004.61,-0.5],[2005.04,-0.3],[2005.46,-0.2],[2005.89,-0.15],[2006.19,-0.05],[2006.45,-0.55],[2006.75,-0.3],[2007.18,0.05],[2007.60,0.25],[2008.03,0.7],[2008.46,1.05],[2008.89,1.5],[2009.31,1.6],[2009.61,1.95],[2009.96,1.65],[2010.38,1.5],[2010.60,0.9],[2010.90,1.7],[2011.16,1.95],[2011.46,0.9],[2011.88,1.15],[2012.31,1.3],[2012.74,0.85],[2013.17,0.6],[2013.47,0.3],[2013.81,0.4],[2014.24,0.45],[2014.67,-0.05],[2015.01,-0.5],[2015.31,-1.8],[2015.61,-1.5],[2015.95,-1.05],[2016.17,-0.3],[2016.38,-0.7],[2016.68,-1.2],[2016.89,-0.9],[2017.24,1.65],[2017.45,-0.5],[2017.67,0.6]];

// (f)
const ufF = [[1960.00,-1.5],[1960.22,-1.2],[1960.44,-0.3],[1960.66,1.4],[1960.88,1.8],[1961.10,2.2],[1961.32,2.5],[1961.54,2.6],[1961.76,2.0],[1961.98,1.8],[1962.20,0.3],[1962.42,0.7],[1962.64,0.1],[1962.86,0.3],[1963.17,-0.35],[1963.52,-0.4],[1963.87,0.25],[1964.18,0.0],[1964.48,-0.3],[1964.75,-0.5],[1965.06,-0.2],[1965.36,-0.45],[1965.63,0.15],[1965.94,-0.2],[1966.24,-0.6],[1966.46,-1.35],[1966.82,-0.6],[1967.12,-0.8],[1967.47,-0.45],[1967.83,-0.3],[1968.13,0.05],[1968.44,-0.3],[1968.79,-0.55],[1969.15,-0.8],[1969.45,-1.8],[1969.81,-1.25],[1970.20,-1.5],[1970.55,-1.7],[1970.99,-2.0],[1971.43,-2.35],[1971.78,-2.6],[1972.14,-2.5],[1972.53,-2.7],[1972.84,-2.85],[1973.10,-3.0],[1973.41,-2.5],[1973.76,-2.7],[1974.07,-2.45],[1974.51,-2.55],[1974.95,-2.2],[1975.39,-1.95],[1975.83,-1.7],[1976.27,-1.5],[1976.71,-1.2],[1977.15,-1.05],[1977.59,-1.55],[1978.03,-1.35],[1978.47,-1.55],[1978.91,-1.45],[1979.35,-1.65],[1979.79,-1.75],[1980.23,-1.45],[1980.67,-1.55],[1981.11,-1.2],[1981.55,-0.95],[1981.99,-0.85],[1982.42,-0.95],[1982.86,-0.75],[1983.30,-0.35],[1983.74,-0.05],[1984.18,0.0],[1984.62,-0.05],[1985.06,-0.3],[1985.50,-0.1],[1985.94,-0.05],[1986.38,-0.15],[1986.82,-0.5],[1987.26,-0.8],[1987.70,-1.05],[1988.14,-1.15],[1988.58,-0.85],[1989.02,-0.7],[1989.46,-0.25],[1989.90,-0.1],[1990.34,0.0],[1990.78,0.1],[1991.22,0.1],[1991.66,-0.15],[1992.10,-0.05],[1992.54,0.1],[1992.98,-0.1],[1993.42,0.05],[1993.86,-0.15],[1994.30,-0.1],[1994.74,-0.25],[1995.18,-0.4],[1995.62,-0.75],[1996.06,-1.0],[1996.50,-1.25],[1996.93,-1.5],[1997.37,-1.65],[1997.81,-1.7],[1998.25,-1.75],[1998.69,-1.85],[1999.13,-1.95],[1999.57,-1.85],[2000.01,-1.95],[2000.45,-2.1],[2000.89,-2.35],[2001.33,-2.45],[2001.77,-2.7],[2002.21,-2.95],[2002.65,-3.2],[2003.09,-3.45],[2003.53,-3.4],[2003.97,-3.55],[2004.41,-3.75],[2004.85,-3.65],[2005.29,-3.75],[2005.73,-3.9],[2006.17,-4.25],[2006.61,-4.55],[2007.05,-4.85],[2007.49,-5.1],[2007.93,-5.15],[2008.37,-5.05],[2008.81,-5.2],[2009.25,-5.15],[2009.69,-5.0],[2010.13,-4.95],[2010.57,-4.85],[2011.01,-4.85],[2011.45,-4.75],[2011.88,-4.55],[2012.32,-4.35],[2012.76,-4.5],[2013.20,-4.6],[2013.64,-4.7],[2014.08,-4.75],[2014.52,-4.85],[2014.96,-5.0],[2015.40,-5.1],[2015.84,-5.25],[2016.28,-5.45],[2016.72,-5.55],[2017.16,-5.5],[2017.60,-5.55],[2017.96,-5.5]];
const ubF = [[1960.00,-5.6],[1960.44,-5.75],[1960.88,-5.4],[1961.32,-5.2],[1961.76,-5.0],[1962.20,-5.0],[1962.64,-4.9],[1963.08,-5.1],[1963.52,-4.95],[1963.96,-4.8],[1964.40,-4.75],[1964.84,-4.75],[1965.28,-4.65],[1965.72,-4.45],[1966.16,-4.5],[1966.60,-4.75],[1967.04,-4.55],[1967.47,-4.45],[1967.91,-4.3],[1968.35,-4.1],[1968.79,-4.0],[1969.23,-4.25],[1969.67,-4.55],[1970.11,-4.45],[1970.55,-4.6],[1970.99,-4.95],[1971.43,-5.1],[1971.87,-5.1],[1972.31,-5.3],[1972.75,-5.5],[1973.19,-5.4],[1973.63,-5.45],[1974.07,-5.5],[1974.51,-5.45],[1974.95,-5.35],[1975.39,-5.2],[1975.83,-5.0],[1976.27,-4.85],[1976.71,-4.75],[1977.15,-4.65],[1977.59,-4.95],[1978.03,-4.9],[1978.47,-4.95],[1978.91,-4.9],[1979.35,-5.05],[1979.79,-5.2],[1980.23,-5.15],[1980.67,-4.95],[1981.11,-4.85],[1981.55,-4.6],[1981.99,-4.55],[1982.42,-4.5],[1982.86,-4.4],[1983.30,-4.1],[1983.74,-3.6],[1984.18,-3.55],[1984.62,-3.4],[1985.06,-3.55],[1985.50,-3.35],[1985.94,-3.25],[1986.38,-3.1],[1986.82,-3.3],[1987.26,-3.6],[1987.70,-3.6],[1988.14,-3.75],[1988.58,-3.5],[1989.02,-3.2],[1989.46,-2.8],[1989.90,-2.45],[1990.34,-2.2],[1990.78,-1.9],[1991.22,-1.7],[1991.66,-1.6],[1992.10,-1.35],[1992.54,-1.15],[1992.98,-1.05],[1993.42,-0.8],[1993.86,-0.55],[1994.30,-0.3],[1994.74,-0.25],[1995.18,0.05],[1995.62,-0.25],[1996.06,-0.1],[1996.50,-0.3],[1996.93,0.0],[1997.37,-0.15],[1997.81,-0.35],[1998.25,-0.2],[1998.69,-0.05],[1999.13,0.05],[1999.57,0.1],[2000.01,0.5],[2000.45,0.75],[2000.89,0.7],[2001.33,0.85],[2001.77,0.6],[2002.21,0.9],[2002.65,0.95],[2003.09,0.5],[2003.53,0.3],[2003.97,0.2],[2004.41,0.4],[2004.85,0.0],[2005.29,0.55],[2005.73,0.65],[2006.17,0.75],[2006.61,0.3],[2007.05,-0.1],[2007.49,-0.35],[2007.93,-1.2],[2008.37,-1.5],[2008.81,-1.95],[2009.25,-1.55],[2009.69,-2.2],[2010.13,-1.8],[2010.57,-1.4],[2011.01,-1.35],[2011.45,-1.4],[2011.88,-0.8],[2012.32,-0.1],[2012.76,0.1],[2013.20,0.1],[2013.64,0.4],[2013.86,-0.15],[2014.30,0.3],[2014.74,0.55],[2015.18,0.45],[2015.62,0.9],[2015.84,0.5],[2016.28,0.95],[2016.50,1.7],[2016.72,1.0],[2017.07,0.45],[2017.38,0.3],[2017.60,0.45],[2017.82,-0.4],[2018.00,-1.6]];

// layout of the six panels
const plotW = 1034;
const colLeft = [126, 1355, 2586];
const rowTop = [46, 944];
const plotH = 687;

const panels = [
  { tag: '(a)', uf: ufA, ub: ubA, yMin: -3, yMax: 3, yStep: 1, yLabel: 'Statistic value', col: 0, row: 0, legX: 65, legY: 43, limText: '0.05 limit' },
  { tag: '(b)', uf: ufB, ub: ubB, yMin: -3, yMax: 4, yStep: 1, yLabel: 'Statistic Value', col: 1, row: 0, legX: 205, legY: 49, limText: '0.05 limit' },
  { tag: '(c)', uf: ufC, ub: ubC, yMin: -3, yMax: 3, yStep: 1, yLabel: 'Statistic value', col: 2, row: 0, legX: 210, legY: 52, limText: '0.05 limit' },
  { tag: '(d)', uf: ufD, ub: ubD, yMin: -3, yMax: 3, yStep: 1, yLabel: 'Statistic value', col: 0, row: 1, legX: 268, legY: 58, limText: '0.05 limit' },
  { tag: '(e)', uf: ufE, ub: ubE, yMin: -3, yMax: 4, yStep: 1, yLabel: 'Statistic value', col: 1, row: 1, legX: 150, legY: 47, limText: '0.05 limit' },
  { tag: '(f)', uf: ufF, ub: ubF, yMin: -6, yMax: 4, yStep: 2, yLabel: 'Statistic value', col: 2, row: 1, legX: 290, legY: 47, limText: '0.05  limit' }
];

const RED = '#ec1c24';
const BLUE = '#1c1ce0';
const YEL = '#cccc10';

let svg = null;

window.onload = function () {
  svg = d3.select('.container').append('svg')
    .attr('width', w)
    .attr('height', h)
    .style('display', 'block');
  svg.append('rect').attr('width', w).attr('height', h).attr('fill', '#fff');
  panels.forEach(drawPanel);
};

function drawPanel(p) {
  const left = colLeft[p.col];
  const top = rowTop[p.row];
  const bottom = top + plotH;

  const x = d3.scaleLinear().domain([1960, 2018]).range([left, left + plotW]);
  const y = d3.scaleLinear().domain([p.yMin, p.yMax]).range([bottom, top]);
  const g = svg.append('g');

  // reference lines
  [limit, -limit].forEach(v => {
    g.append('line')
      .attr('x1', x(1960)).attr('x2', x(2018))
      .attr('y1', y(v)).attr('y2', y(v))
      .attr('stroke', '#222').attr('stroke-width', 2.8)
      .attr('stroke-dasharray', '2.5,2.5');
  });
  g.append('line')
    .attr('x1', x(1960)).attr('x2', x(2018))
    .attr('y1', y(0)).attr('y2', y(0))
    .attr('stroke', YEL).attr('stroke-width', 2.8)
    .attr('stroke-dasharray', '9,3,2,3');

  const line = d3.line().x(d => x(d[0])).y(d => y(d[1]));

  g.append('path').datum(p.ub)
    .attr('d', line)
    .attr('fill', 'none')
    .attr('stroke', BLUE).attr('stroke-width', 3.6)
    .attr('stroke-dasharray', '9,3,3,3')
    .attr('stroke-linejoin', 'round');

  g.append('path').datum(p.uf)
    .attr('d', line)
    .attr('fill', 'none')
    .attr('stroke', RED).attr('stroke-width', 3.6)
    .attr('stroke-linejoin', 'round');

  // axes, ticks pointing inward like the original
  const yTicks = d3.range(p.yMin, p.yMax + 0.001, p.yStep);
  const xAxis = d3.axisBottom(x)
    .tickValues(xTickYears)
    .tickFormat((d, i) => xTickLabels[i])
    .tickSizeInner(-10).tickSizeOuter(0).tickPadding(26);
  const yAxis = d3.axisLeft(y)
    .tickValues(yTicks)
    .tickFormat(d => String(d))
    .tickSizeInner(-10).tickSizeOuter(0).tickPadding(16);

  const gx = g.append('g').attr('transform', `translate(0,${bottom})`).call(xAxis);
  const gy = g.append('g').attr('transform', `translate(${left},0)`).call(yAxis);
  [gx, gy].forEach(a => {
    a.select('.domain').attr('stroke', '#555').attr('stroke-width', 2.6);
    a.selectAll('.tick line').attr('stroke', '#555').attr('stroke-width', 2.6);
    a.selectAll('.tick text')
      .attr('font-size', 43)
      .attr('font-family', '"Liberation Serif", serif')
      .attr('fill', '#222');
  });

  // axis titles and caption
  g.append('text')
    .attr('x', left + plotW / 2).attr('y', bottom + 110)
    .attr('text-anchor', 'middle').attr('font-size', 46)
    .text('Year');
  g.append('text')
    .attr('x', left + plotW / 2).attr('y', bottom + 172)
    .attr('text-anchor', 'middle').attr('font-size', 56)
    .text(p.tag);
  g.append('text')
    .attr('transform', `translate(${left - 84},${(top + bottom) / 2}) rotate(-90)`)
    .attr('text-anchor', 'middle').attr('dy', '0.35em')
    .attr('font-size', 46)
    .text(p.yLabel);

  drawLegend(g, left + p.legX, top + p.legY, p.limText);
}

function drawLegend(g, lx, ly, limText) {
  const items = [
    { label: 'UF', stroke: RED, dash: null },
    { label: 'UB', stroke: BLUE, dash: '9,3,3,3' },
    { label: limText, stroke: '#222', dash: '2.5,2.5' }
  ];
  let cx = lx;
  items.forEach(it => {
    const ln = g.append('line')
      .attr('x1', cx).attr('x2', cx + 68)
      .attr('y1', ly).attr('y2', ly)
      .attr('stroke', it.stroke).attr('stroke-width', 3.4);
    if (it.dash) ln.attr('stroke-dasharray', it.dash);
    const t = g.append('text')
      .attr('x', cx + 72).attr('y', ly)
      .attr('dy', '0.35em')
      .attr('font-size', 46)
      .style('white-space', 'pre')
      .text(it.label);
    cx = cx + 72 + t.node().getComputedTextLength() + 18;
  });
}
</script>
</body>
</html>
